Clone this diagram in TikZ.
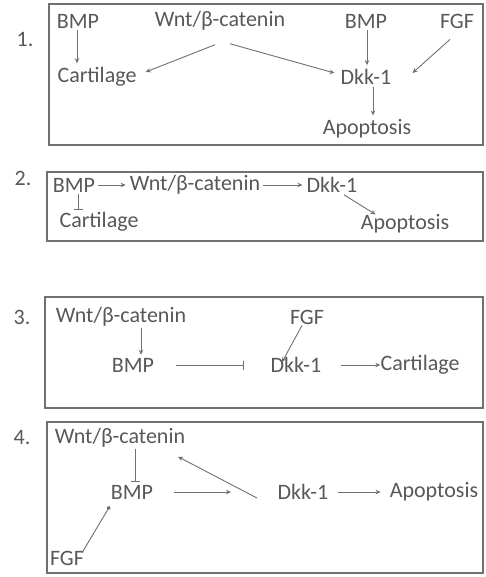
\documentclass[tikz,border=0pt]{standalone}
\usepackage{fontspec}
\setmainfont{Carlito}
\usetikzlibrary{arrows.meta,calc}
\definecolor{txt}{HTML}{585858}
\definecolor{ln}{HTML}{707070}
\begin{document}
\begin{tikzpicture}[x=1pt,y=-1pt,
  lbl/.style={text=txt,font=\fontsize{22}{26}\selectfont,inner sep=1pt},
  box/.style={draw=ln,line width=1.3pt},
  act/.style={draw=ln,line width=0.9pt,-{Stealth[length=5pt,width=4.5pt]}},
  inh/.style={draw=ln,line width=0.9pt,-{Bar[width=9pt]}},
  dotend/.style={draw=ln,line width=0.9pt,-{Circle[length=4pt]}}]
\useasboundingbox (0,0) rectangle (485,577);
% ---------- panel 1
\draw[box] (49,4) rectangle (483,145);
\node[lbl] (n1) at (25,40) {1.};
\node[lbl] (bmpA) at (78,21) {BMP};
\node[lbl] (wnt1) at (220,21) {Wnt/β-catenin};
\node[lbl] (bmpB) at (366,21) {BMP};
\node[lbl] (fgf1) at (457,21) {FGF};
\node[lbl] (cart1) at (97,77) {Cartilage};
\node[lbl] (dkk1) at (366,77) {Dkk-1};
\node[lbl] (apo1) at (367,129) {Apoptosis};
\draw[act] ($(bmpA.south)+(-1,1)$) -- ($(bmpA.south |- cart1.north)+(-1,-3)$);
\draw[act] ($(wnt1.south)+(-5,13)$) -- ($(cart1.east)+(8,-5)$);
\draw[act] ($(wnt1.south)+(10,12)$) -- ($(dkk1.west)+(-5,-4)$);
\draw[act] ($(bmpB.south)+(1,1)$) -- ($(bmpB.south |- dkk1.north)+(1,-3)$);
\draw[act] ($(fgf1.south)+(-7,10)$) -- ($(dkk1.east)+(20,-4)$);
\draw[act] ($(dkk1.south)+(7,1)$) -- ($(dkk1.south |- apo1.north)+(7,-3)$);
% ---------- panel 2
\draw[box] (47,172) rectangle (483,241);
\node[lbl] (n2) at (23,178) {2.};
\node[lbl] (bmp2) at (74,185) {BMP};
\node[lbl] (wnt2) at (195,185) {Wnt/β-catenin};
\node[lbl] (dkk2) at (332,185) {Dkk-1};
\node[lbl] (cart2) at (99,222) {Cartilage};
\node[lbl] (apo2) at (405,224) {Apoptosis};
\draw[act,shorten <=2pt,shorten >=3pt] (bmp2.east) -- (wnt2.west);
\draw[act,shorten <=2pt,shorten >=3pt] (wnt2.east) -- (dkk2.west);
\draw[inh] ($(bmp2.south)+(4,1)$) -- ($(bmp2.south |- cart2.north)+(4,-1)$);
\draw[act] ($(dkk2.south)+(12,1)$) -- ($(apo2.north west)+(16,1)$);
% ---------- panel 3
\draw[box] (45,297) rectangle (483,408);
\node[lbl] (n3) at (22,317) {3.};
\node[lbl] (wnt3) at (121,317) {Wnt/β-catenin};
\node[lbl] (bmp3) at (133,365) {BMP};
\node[lbl] (fgf3) at (307,317) {FGF};
\node[lbl] (dkk3) at (296,365) {Dkk-1};
\node[lbl] (cart3) at (420,365) {Cartilage};
\draw[act] ($(wnt3.south)+(20,0)$) -- ($(wnt3.south |- bmp3.north)+(20,-2)$);
\draw[inh] ($(bmp3.east)+(21,0)$) -- ($(dkk3.west)+(-26,0)$);
\draw[act] ($(fgf3.south)+(-5,0)$) -- ($(dkk3.north)+(-14,6)$);
\draw[act] ($(dkk3.east)+(18,0)$) -- ($(cart3.west)+(1,0)$);
% ---------- panel 4
\draw[box] (47,422) rectangle (483,573);
\node[lbl] (n4) at (22,438) {4.};
\node[lbl] (wnt4) at (120,438) {Wnt/β-catenin};
\node[lbl] (bmp4) at (132,492) {BMP};
\node[lbl] (dkk4) at (303,492) {Dkk-1};
\node[lbl] (apo4) at (434,492) {Apoptosis};
\node[lbl] (fgf4) at (67,558) {FGF};
\coordinate (bmpend) at (231,492);
\coordinate (fb) at (257,498);
\draw[inh] ($(wnt4.south)+(15,0)$) -- ($(bmp4.north)+(3,-2)$);
\draw[act] ($(bmp4.east)+(20,0)$) -- (bmpend);
\draw[act] (fb) -- ($(wnt4.south)+(58,8)$);
\draw[act] ($(dkk4.east)+(8,0)$) -- ($(apo4.west)+(-8,0)$);
\draw[dotend] ($(fgf4.north east)+(-3,3)$) -- ($(bmp4.south west)+(0,6)$);
\end{tikzpicture}
\end{document}
